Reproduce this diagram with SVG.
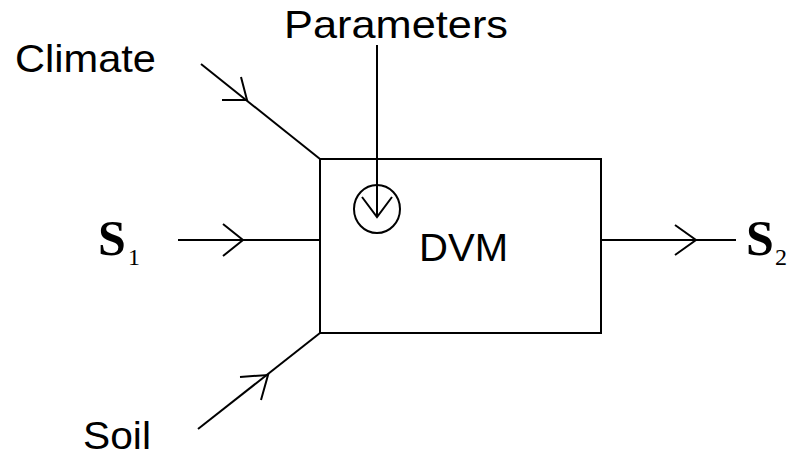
<svg xmlns="http://www.w3.org/2000/svg" width="806" height="458" viewBox="0 0 806 458">
<style>
.ln{stroke:#000;stroke-width:2;fill:none;stroke-linecap:butt}
.lbl{font-family:"Liberation Sans",Arial,sans-serif;font-size:39px;fill:#000}
.sym{font-family:"Liberation Serif","Times New Roman",serif;fill:#000}
</style>
<rect width="806" height="458" fill="#fff"/>
<g id="dvm">
<rect class="ln" x="320" y="159" width="281" height="174"/>
<text class="lbl" x="419" y="261" textLength="89" lengthAdjust="spacingAndGlyphs">DVM</text>
</g>
<g id="climate">
<text class="lbl" x="15" y="72" textLength="141" lengthAdjust="spacingAndGlyphs">Climate</text>
</g>
<g id="parameters">
<text class="lbl" x="284" y="38" textLength="224" lengthAdjust="spacingAndGlyphs">Parameters</text>
</g>
<g id="soil">
<text class="lbl" x="83" y="449" font-size="36" textLength="68" lengthAdjust="spacingAndGlyphs">Soil</text>
</g>
<g id="s1">
<text class="sym" x="98" y="255" font-size="50" font-weight="bold">S</text>
<text class="sym" x="128" y="265" font-size="24">1</text>
</g>
<g id="s2">
<text class="sym" x="746" y="255" font-size="50" font-weight="bold">S</text>
<text class="sym" x="775" y="265" font-size="24">2</text>
</g>
<g id="connectors">
<line class="ln" x1="201" y1="64" x2="320" y2="159"/>
<polyline class="ln" points="222,100 247,100 241,77"/>
<line class="ln" x1="377" y1="45" x2="377" y2="217"/>
<ellipse class="ln" cx="377" cy="209" rx="23" ry="24"/>
<polyline class="ln" points="362,197 377,217 392,197"/>
<line class="ln" x1="178" y1="240" x2="320" y2="240"/>
<polyline class="ln" points="223,224 243,240 223,256"/>
<line class="ln" x1="601" y1="240" x2="736" y2="240"/>
<polyline class="ln" points="675,225 696,240 675,255"/>
<line class="ln" x1="198" y1="429" x2="320" y2="333"/>
<polyline class="ln" points="240,377 268,375 261,400"/>
</g>
</svg>
